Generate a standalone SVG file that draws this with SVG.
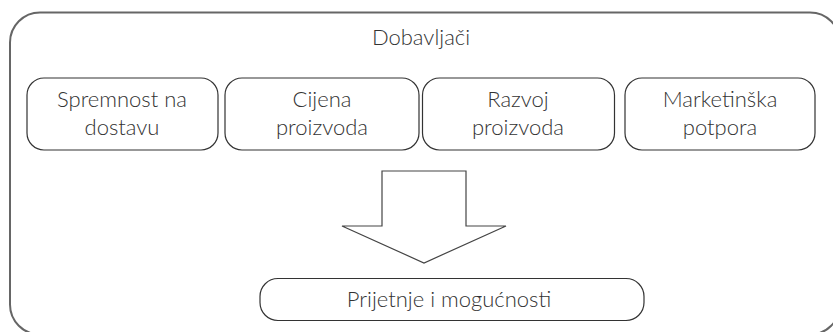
<svg xmlns="http://www.w3.org/2000/svg" width="833" height="332" viewBox="0 0 833 332">
<style>
.frame{fill:#fff;stroke:#666;stroke-width:2}
.box{fill:#fff;stroke:#333;stroke-width:1.2}
.arrow{fill:#fff;stroke:#444;stroke-width:1.2;stroke-linejoin:miter}
text{font-family:Lato,"Liberation Sans",sans-serif;font-weight:300;font-size:22px;fill:#333;text-anchor:middle}
</style>
<rect width="833" height="332" fill="#fff"/>
<g id="frame">
<rect class="frame" x="10" y="12.5" width="830" height="322" rx="30" ry="30"/>
<text x="421" y="44.5">Dobavljači</text>
</g>
<g id="n1">
<rect class="box" x="27" y="78" width="191" height="72" rx="17"/>
<text x="122" y="107">Spremnost na</text>
<text x="122" y="135">dostavu</text>
</g>
<g id="n2">
<rect class="box" x="225" y="78" width="194" height="72" rx="17"/>
<text x="322" y="107">Cijena</text>
<text x="322" y="135">proizvoda</text>
</g>
<g id="n3">
<rect class="box" x="422.5" y="78" width="192" height="72" rx="17"/>
<text x="518" y="107">Razvoj</text>
<text x="518" y="135">proizvoda</text>
</g>
<g id="n4">
<rect class="box" x="625" y="78" width="190" height="72" rx="17"/>
<text x="720" y="107">Marketinška</text>
<text x="720" y="135">potpora</text>
</g>
<g id="connectors">
<polygon class="arrow" points="382,171 466,171 466,226 506,226 424,263 342,226 382,226"/>
</g>
<g id="n5">
<rect class="box" x="260" y="278.5" width="384" height="42" rx="18"/>
<text x="449" y="306.5">Prijetnje i mogućnosti</text>
</g>
</svg>
